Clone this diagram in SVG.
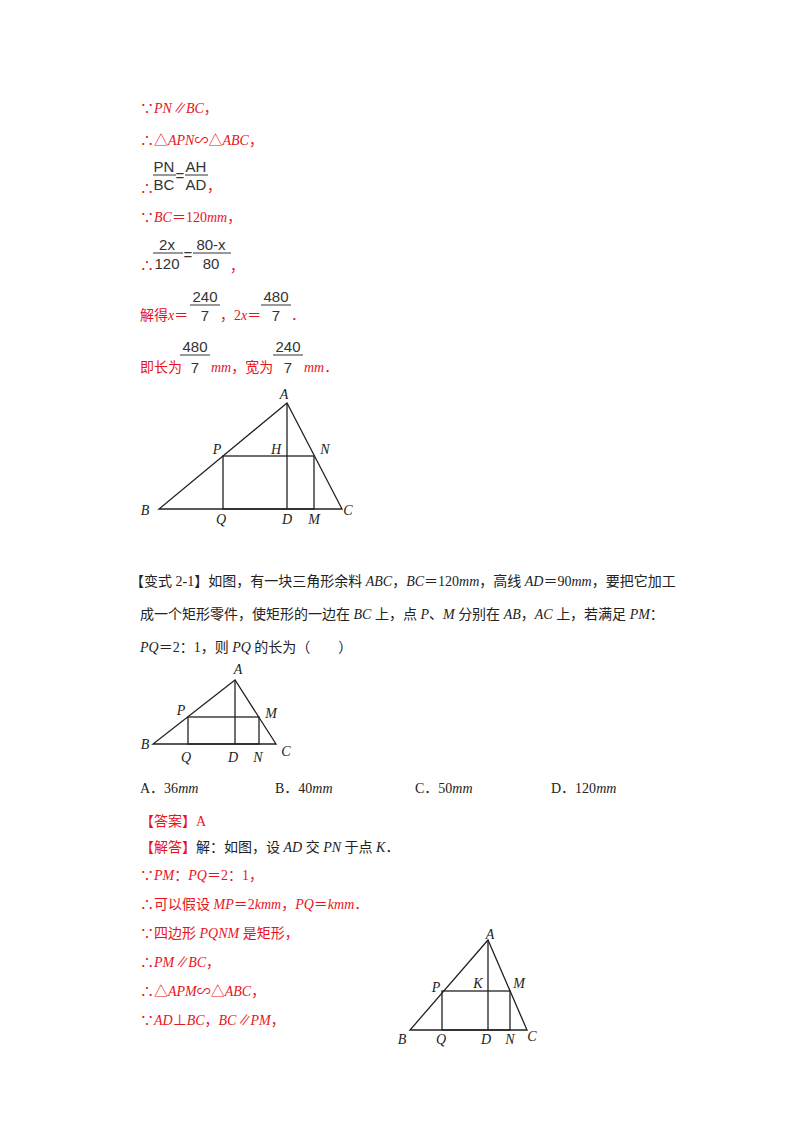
<svg xmlns="http://www.w3.org/2000/svg" width="800" height="1132" viewBox="0 0 800 1132">
<style>
.r{fill:#e8141c;font-family:"Liberation Serif","Noto Sans CJK SC",serif;font-size:14px}
.k{fill:#222;font-family:"Liberation Serif","Noto Sans CJK SC",serif;font-size:14px}
.f{fill:#333;font-family:"Liberation Sans",sans-serif;font-size:15px;text-anchor:middle}
.i{font-style:italic}
.g{fill:none;stroke:#222;stroke-width:1.3}
.l{fill:#222;font-family:"Liberation Serif",serif;font-size:14px;font-style:italic;text-anchor:middle}
.fl{stroke:#333;stroke-width:1}
</style>
<rect width="800" height="1132" fill="#fff"/>
<g id="solution1">
<text class="r" x="140" y="113">∵<tspan class="i">PN∥BC</tspan>，</text>
<text class="r" x="140" y="145">∴△<tspan class="i">APN</tspan>∽△<tspan class="i">ABC</tspan>，</text>
<text class="r" x="140" y="193">∴</text>
<text class="f" x="164" y="172">PN</text><line class="fl" x1="153" y1="175" x2="176" y2="175"/><text class="f" x="164" y="190">BC</text>
<text class="f" x="180" y="181">=</text>
<text class="f" x="196" y="172">AH</text><line class="fl" x1="185" y1="175" x2="208" y2="175"/><text class="f" x="196" y="190">AD</text>
<text class="r" x="207" y="191">，</text>
<text class="r" x="140" y="222">∵<tspan class="i">BC</tspan>＝120<tspan class="i">mm</tspan>，</text>
<text class="r" x="140" y="270">∴</text>
<text class="f" x="167" y="250">2x</text><line class="fl" x1="153" y1="253" x2="183" y2="253"/><text class="f" x="167" y="269">120</text>
<text class="f" x="188" y="260">=</text>
<text class="f" x="211" y="250">80-x</text><line class="fl" x1="193" y1="253" x2="231" y2="253"/><text class="f" x="211" y="269">80</text>
<text class="r" x="230" y="271">，</text>
<text class="r" x="140" y="320">解得<tspan class="i">x</tspan>＝</text>
<text class="f" x="205" y="302">240</text><line class="fl" x1="190" y1="305" x2="220" y2="305"/><text class="f" x="205" y="321">7</text>
<text class="r" x="220" y="320">，2<tspan class="i">x</tspan>＝</text>
<text class="f" x="276" y="302">480</text><line class="fl" x1="261" y1="305" x2="291" y2="305"/><text class="f" x="276" y="321">7</text>
<text class="r" x="291" y="320">．</text>
<text class="r" x="140" y="372">即长为</text>
<text class="f" x="195" y="352">480</text><line class="fl" x1="180" y1="355" x2="210" y2="355"/><text class="f" x="195" y="373">7</text>
<text class="r" x="211" y="372"><tspan class="i">mm</tspan>，宽为</text>
<text class="f" x="288" y="352">240</text><line class="fl" x1="273" y1="355" x2="303" y2="355"/><text class="f" x="288" y="373">7</text>
<text class="r" x="304" y="372"><tspan class="i">mm</tspan>．</text>
</g>
<g id="figure1">
<polygon class="g" points="287,403 159,509 342,509"/>
<line class="g" x1="287" y1="403" x2="287" y2="509"/>
<rect class="g" x="223" y="456" width="91" height="53"/>
<text class="l" x="284" y="399">A</text><text class="l" x="217" y="454">P</text><text class="l" x="276" y="454">H</text><text class="l" x="325" y="454">N</text>
<text class="l" x="145" y="515">B</text><text class="l" x="221" y="524">Q</text><text class="l" x="287" y="524">D</text><text class="l" x="314" y="524">M</text><text class="l" x="348" y="515">C</text>
</g>
<g id="problem">
<text class="k" x="130" y="586">【变式 2-1】如图，有一块三角形余料 <tspan class="i">ABC</tspan>，<tspan class="i">BC</tspan>＝120<tspan class="i">mm</tspan>，高线 <tspan class="i">AD</tspan>＝90<tspan class="i">mm</tspan>，要把它加工</text>
<text class="k" x="140" y="619">成一个矩形零件，使矩形的一边在 <tspan class="i">BC</tspan> 上，点 <tspan class="i">P</tspan>、<tspan class="i">M</tspan> 分别在 <tspan class="i">AB</tspan>，<tspan class="i">AC</tspan> 上，若满足 <tspan class="i">PM</tspan>：</text>
<text class="k" x="140" y="652"><tspan class="i">PQ</tspan>＝2：1，则 <tspan class="i">PQ</tspan> 的长为（　　）</text>
<text class="k" x="140" y="793">A．36<tspan class="i">mm</tspan></text>
<text class="k" x="275" y="793">B．40<tspan class="i">mm</tspan></text>
<text class="k" x="415" y="793">C．50<tspan class="i">mm</tspan></text>
<text class="k" x="551" y="793">D．120<tspan class="i">mm</tspan></text>
</g>
<g id="figure2">
<polygon class="g" points="235,680 153,744 276,744"/>
<line class="g" x1="235" y1="680" x2="235" y2="744"/>
<rect class="g" x="188" y="717" width="71" height="27"/>
<text class="l" x="238" y="674">A</text><text class="l" x="181" y="715">P</text><text class="l" x="271" y="718">M</text>
<text class="l" x="145" y="749">B</text><text class="l" x="186" y="762">Q</text><text class="l" x="233" y="762">D</text><text class="l" x="258" y="762">N</text><text class="l" x="286" y="756">C</text>
</g>
<g id="solution2">
<text class="r" x="140" y="826">【答案】A</text>
<text class="r" x="140" y="852">【解答】<tspan fill="#222">解：如图，设 <tspan class="i">AD</tspan> 交 <tspan class="i">PN</tspan> 于点 <tspan class="i">K</tspan>．</tspan></text>
<text class="r" x="140" y="880">∵<tspan class="i">PM</tspan>：<tspan class="i">PQ</tspan>＝2：1，</text>
<text class="r" x="140" y="909">∴可以假设 <tspan class="i">MP</tspan>＝2<tspan class="i">kmm</tspan>，<tspan class="i">PQ</tspan>＝<tspan class="i">kmm</tspan>．</text>
<text class="r" x="140" y="938">∵四边形 <tspan class="i">PQNM</tspan> 是矩形，</text>
<text class="r" x="140" y="967">∴<tspan class="i">PM∥BC</tspan>，</text>
<text class="r" x="140" y="996">∴△<tspan class="i">APM</tspan>∽△<tspan class="i">ABC</tspan>，</text>
<text class="r" x="140" y="1025">∵<tspan class="i">AD</tspan>⊥<tspan class="i">BC</tspan>，<tspan class="i">BC∥PM</tspan>，</text>
</g>
<g id="figure3">
<polygon class="g" points="488,940 410,1030 527,1030"/>
<line class="g" x1="488" y1="940" x2="488" y2="1030"/>
<rect class="g" x="442" y="991" width="68" height="39"/>
<text class="l" x="490" y="939">A</text><text class="l" x="436" y="992">P</text><text class="l" x="478" y="988">K</text><text class="l" x="519" y="988">M</text>
<text class="l" x="402" y="1044">B</text><text class="l" x="441" y="1044">Q</text><text class="l" x="486" y="1044">D</text><text class="l" x="510" y="1044">N</text><text class="l" x="532" y="1041">C</text>
</g>
</svg>
